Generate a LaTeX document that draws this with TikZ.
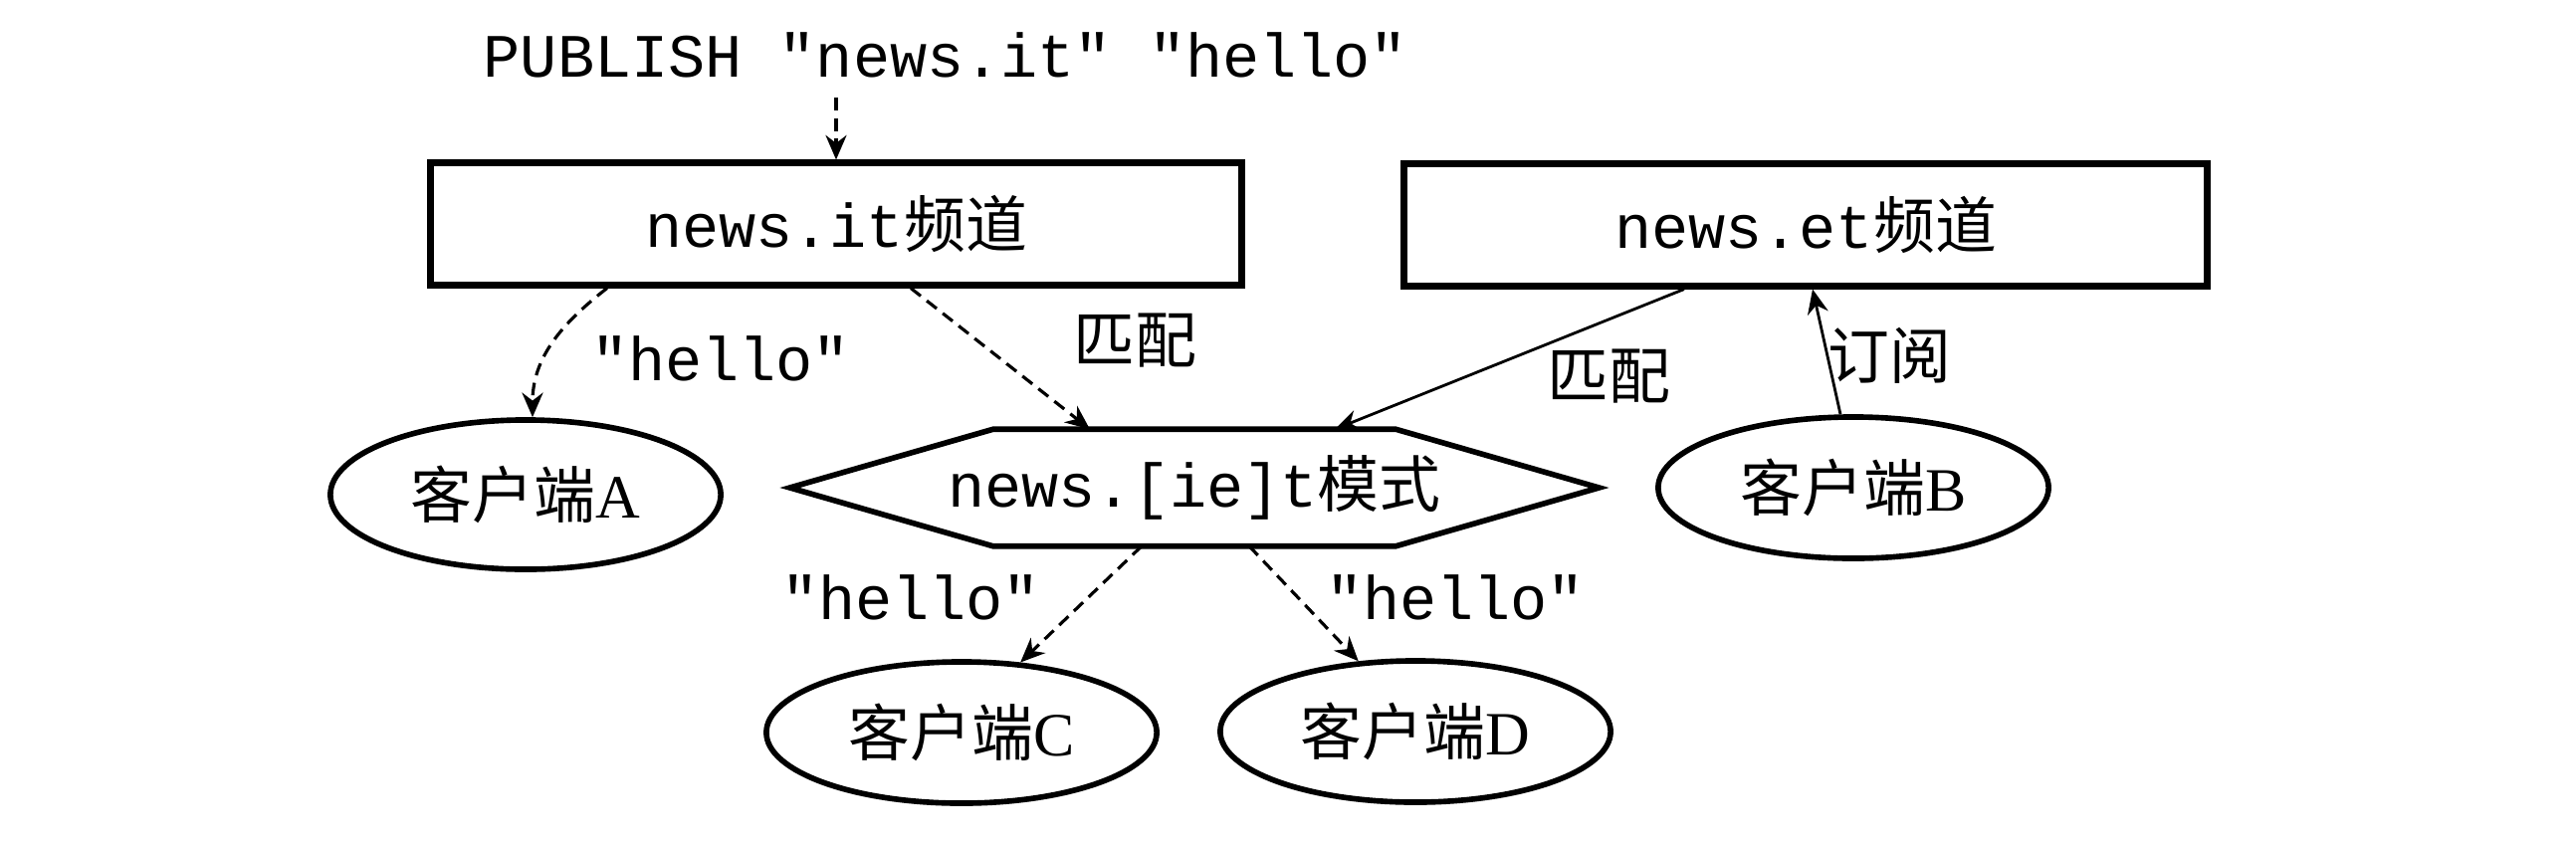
\documentclass[tikz,border=0pt]{standalone}
\usepackage{fontspec}
\setmainfont{Liberation Serif}
\setmonofont{Liberation Mono}
\newfontfamily\cjk{Noto Sans CJK SC}
\usetikzlibrary{arrows.meta,shapes.geometric,calc}
\begin{document}
\begin{tikzpicture}[x=0.01cm,y=-0.01cm,
  every node/.style={font=\fontsize{17.6pt}{20pt}\selectfont},
  chan/.style={draw,line width=2pt,minimum width=8.14cm,minimum height=1.22cm,inner sep=0pt},
  client/.style={draw,ellipse,line width=1.6pt,minimum width=3.92cm,minimum height=1.42cm,inner sep=0pt},
  dashar/.style={line width=0.9pt,dash pattern=on 3.6pt off 2.2pt,-{Stealth[length=7pt,width=6pt]}},
  solar/.style={line width=0.8pt,-{Stealth[length=7pt,width=6pt]}},
  lbl/.style={inner sep=0pt},
  hexline/.style={line width=1.6pt,line join=miter}
]
\path[fill=white] (0,0) rectangle (2588,848);
\node[inner sep=0.2cm] (pub) at (950,55) {\ttfamily PUBLISH "news.it" "hello"};
\node[chan] (it) at (840,225) {\ttfamily news.it{\cjk 频道}};
\node[chan,minimum width=8.07cm] (et) at (1814,226) {\ttfamily news.et{\cjk 频道}};
\node[minimum width=8.11cm,minimum height=1.16cm,inner sep=0pt] (hex) at (1200,490) {\ttfamily news.[ie]t{\cjk 模式}};
\draw[hexline] (hex.west) -- ([xshift=2.04cm]hex.north west) -- ([xshift=-2.04cm]hex.north east) -- (hex.east) -- ([xshift=-2.04cm]hex.south east) -- ([xshift=2.04cm]hex.south west) -- cycle;
\node[client,minimum height=1.5cm] (A) at (528,497) {{\cjk 客户端}A};
\node[client] (B) at (1862,490) {{\cjk 客户端}B};
\node[client] (C) at (966,736) {{\cjk 客户端}C};
\node[client] (D) at (1422,735) {{\cjk 客户端}D};
\draw[dashar] (pub.south -| it.north) -- (it.north);
\draw[dashar] ([xshift=-2.3cm]it.south) .. controls +(-45,35) and +(0,-60) .. ([xshift=0.07cm]A.north);
\node[lbl] at (724,360) {\ttfamily "hello"};
\draw[dashar] ([xshift=0.75cm]it.south) -- ([xshift=-1.05cm]hex.north);
\node[lbl] at (1140,342) {\cjk 匹配};
\draw[solar] ([xshift=-1.22cm]et.south) -- ([xshift=1.41cm]hex.north);
\node[lbl] at (1616,378) {\cjk 匹配};
\draw[solar] (B.100) -- ([xshift=0.07cm]et.south);
\node[lbl] at (1898,357) {\cjk 订阅};
\draw[dashar] ([xshift=-0.53cm]hex.south) -- (C.50);
\node[lbl] at (915,600) {\ttfamily "hello"};
\draw[dashar] ([xshift=0.55cm]hex.south) -- (D.129);
\node[lbl] at (1462,600) {\ttfamily "hello"};
\end{tikzpicture}
\end{document}
